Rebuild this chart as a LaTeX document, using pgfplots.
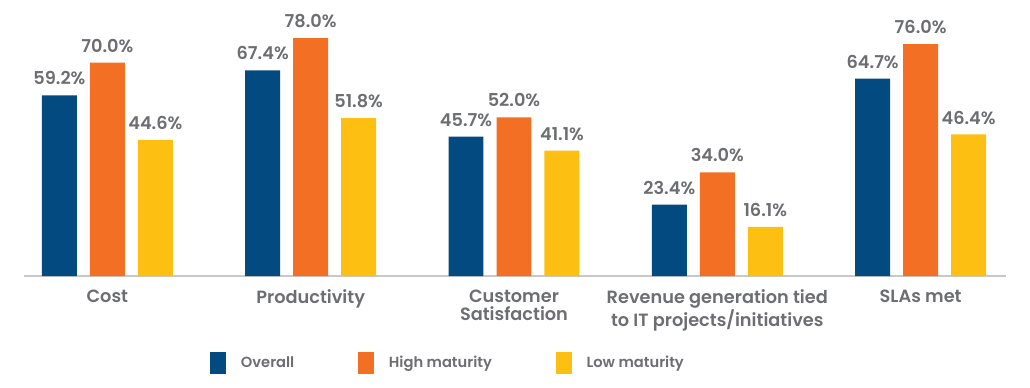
\documentclass[border=0pt]{standalone}
\usepackage{pgfplots}
\pgfplotsset{compat=1.18}
\usepackage{fontspec}
\setmainfont{Poppins}[UprightFont=* SemiBold]
\definecolor{cblue}{HTML}{034A80}
\definecolor{corange}{HTML}{F26F24}
\definecolor{cyellow}{HTML}{FDBF12}
\definecolor{ctext}{HTML}{6D6E71}
\definecolor{caxis}{HTML}{C8C8C8}
\begin{document}
\begin{tikzpicture}
\useasboundingbox (0,0) rectangle (772.5pt,290.25pt);
\begin{axis}[
  at={(18pt,83.25pt)}, anchor=south west,
  scale only axis, width=736.5pt, height=183pt,
  xmin=-0.41, xmax=4.42, ymin=0, ymax=80,
  axis x line=bottom, axis y line=none,
  x axis line style={caxis, line width=1pt, -},
  xtick={0,1,2,3,4}, major tick length=0pt,
  xticklabels={Cost,Productivity,{Customer\\Satisfaction},{Revenue generation tied\\to IT projects/initiatives},SLAs met},
  xticklabel style={align=center, anchor=north, yshift=-7pt, font=\fontsize{13.3pt}{13.8pt}\selectfont, text=ctext},
  ybar, bar width=0.172,
  /pgf/number format/assume math mode=true,
  nodes near coords={\pgfmathprintnumber[fixed,fixed zerofill,precision=1]{\pgfplotspointmeta}\%},
  every node near coord/.append style={anchor=south, inner sep=0pt, yshift=7.5pt, font=\fontsize{13.3pt}{14pt}\selectfont, text=ctext},
  legend columns=3,
  legend style={draw=none, fill=none, at={(rel axis cs:0.1894,-0.3566)}, anchor=west, inner sep=0pt,
    font=\fontsize{11pt}{13pt}\selectfont, text=ctext,
    /tikz/every even column/.append style={column sep=46pt},
    /tikz/every odd column/.append style={column sep=0pt},
    cells={anchor=west}},
  legend image code/.code={\fill[#1] (0pt,-7.9pt) rectangle (12pt,7.9pt);},
]
\addplot[fill=cblue, draw=none, bar shift=-0.236] coordinates {(0,59.2) (1,67.4) (2,45.7) (3,23.4) (4,64.7)};
\addplot[fill=corange, draw=none, bar shift=0] coordinates {(0,70.0) (1,78.0) (2,52.0) (3,34.0) (4,76.0)};
\addplot[fill=cyellow, draw=none, bar shift=0.236] coordinates {(0,44.6) (1,51.8) (2,41.1) (3,16.1) (4,46.4)};
\legend{\hspace{9pt}Overall,\hspace{9pt}High maturity,\hspace{9pt}Low maturity}
\end{axis}
\end{tikzpicture}
\end{document}
